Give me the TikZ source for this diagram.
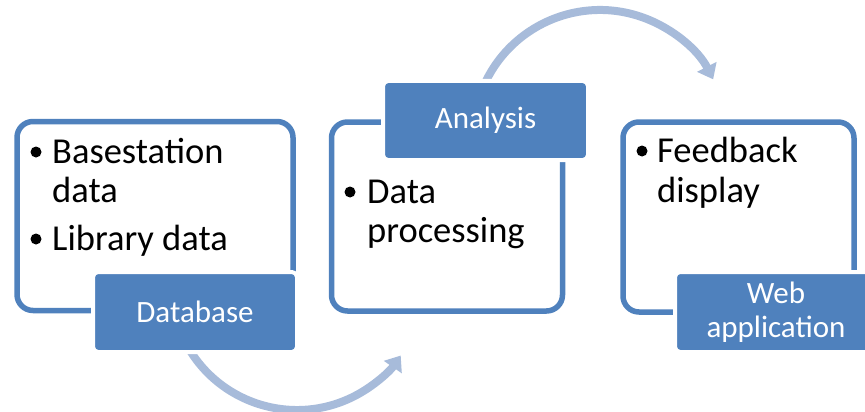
\documentclass[tikz,border=0pt]{standalone}
\usepackage{fontspec}
\setmainfont{Carlito}
\usetikzlibrary{arrows.meta}
\definecolor{office}{RGB}{79,129,189}
\definecolor{flow}{RGB}{167,187,218}
\tikzset{
  outerbox/.style={draw=office, line width=5.5pt, rounded corners=16pt, inner sep=0pt, fill=white},
  labelbox/.style={draw=white, fill=office, line width=4pt, rounded corners=5pt, inner sep=0pt,
    text=white, font=\fontsize{31}{34}\selectfont, align=center},
  itemtext/.style={anchor=base west, inner sep=0pt, font=\fontsize{36.5}{39}\selectfont},
  bul/.style={circle, fill=black, inner sep=0pt, minimum size=11pt},
  flowarrow/.style={draw=flow, line width=8pt, -{Triangle[width=21pt,length=14pt]}}
}
\begin{document}
\begin{tikzpicture}[x=1pt,y=-1pt]
\useasboundingbox (0,0) rectangle (865,412);
\clip (0,0) rectangle (865,412);
% arrows (drawn first, boxes cover their start)
\coordinate (c1) at (297,284);
\coordinate (c2) at (600,137);
\draw[flowarrow] (c1) ++(150:126) arc[start angle=150, end angle=34.6, radius=126];
\draw[flowarrow] (c2) ++(200:127) arc[start angle=200, end angle=333, radius=127];
% outer boxes
\node[outerbox, minimum width=276pt, minimum height=189pt] (box1) at (155,216) {};
\node[outerbox, minimum width=231pt, minimum height=189pt] (box2) at (447,216.5) {};
\node[outerbox, minimum width=231pt, minimum height=190pt] (box3) at (738.5,217) {};
% texts box 1
\node[bul] (b1a) at (36,152) {};
\node[itemtext] (t1a) at (52,163) {Basestation};
\node[itemtext] (t1b) at (52,202) {data};
\node[bul] (b1b) at (36,239) {};
\node[itemtext] (t1c) at (52,250) {Library data};
% texts box 2
\node[bul] (b2a) at (350,192) {};
\node[itemtext] (t2a) at (367,203) {Data};
\node[itemtext] (t2b) at (367,242) {processing};
% texts box 3
\node[bul] (b3a) at (642,151) {};
\node[itemtext] (t3a) at (657,162) {Feedback};
\node[itemtext] (t3b) at (657,202) {display};
% label boxes
\node[labelbox, minimum width=204pt, minimum height=80pt] (db) at (195,312) {Database};
\node[labelbox, minimum width=205pt, minimum height=79pt] (an) at (485.5,120.5) {Analysis};
\node[labelbox, minimum width=202pt, minimum height=80pt] (web) at (776,312) {Web\\application};
\end{tikzpicture}
\end{document}
